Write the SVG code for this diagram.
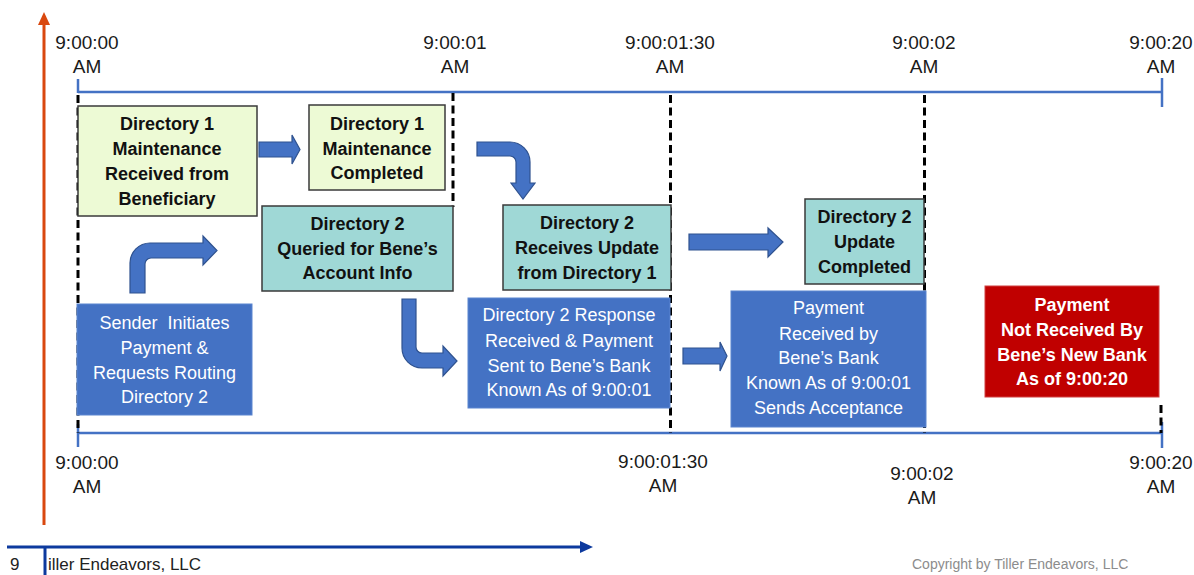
<svg xmlns="http://www.w3.org/2000/svg" width="1194" height="575" viewBox="0 0 1194 575">
<style>
  text { font-family: "Liberation Sans", Arial, sans-serif; }
  .tl { font-size: 19px; fill: #1a1a1a; text-anchor: middle; }
  .bold { font-size: 18px; font-weight: bold; fill: #111; text-anchor: middle; }
  .wt { font-size: 18px; fill: #ffffff; text-anchor: middle; }
  .wtb { font-size: 18px; font-weight: bold; fill: #ffffff; text-anchor: middle; }
  .green { fill: #EDFAD5; stroke: #3a3a3a; stroke-width: 1.5; }
  .teal { fill: #9FD8D6; stroke: #3a3a3a; stroke-width: 1.5; }
  .blue { fill: #4472C4; stroke: #5B85D0; stroke-width: 1; }
  .red { fill: #C00000; stroke: #D04040; stroke-width: 1; }
  .axis { stroke: #4472C4; stroke-width: 2.5; fill: none; }
  .dash { stroke: #000; stroke-width: 3; stroke-dasharray: 8 4.5; fill: none; }
  .barrow { fill: #4472C4; stroke: #2F528F; stroke-width: 1.2; }
</style>

<!-- vertical orange axis -->
<g id="y-axis">
  <line x1="44" y1="525" x2="44" y2="22" stroke="#D9480F" stroke-width="3"/>
  <polygon points="38,25 44,12 50,25" fill="#D9480F"/>
</g>

<!-- timelines -->
<g id="timeline-top">
  <line class="axis" x1="78" y1="92" x2="1162" y2="92"/>
  <line class="axis" x1="78" y1="79" x2="78" y2="93"/>
  <line class="axis" x1="1162" y1="78" x2="1162" y2="107"/>
  <text class="tl" x="87" y="49">9:00:00</text>
  <text class="tl" x="87" y="73">AM</text>
  <text class="tl" x="455" y="49">9:00:01</text>
  <text class="tl" x="455" y="73">AM</text>
  <text class="tl" x="670" y="49">9:00:01:30</text>
  <text class="tl" x="670" y="73">AM</text>
  <text class="tl" x="924" y="49">9:00:02</text>
  <text class="tl" x="924" y="73">AM</text>
  <text class="tl" x="1161" y="49">9:00:20</text>
  <text class="tl" x="1161" y="73">AM</text>
</g>
<g id="timeline-bottom">
  <line class="axis" x1="78" y1="433" x2="1162" y2="433"/>
  <line class="axis" x1="78" y1="424" x2="78" y2="447"/>
  <line class="axis" x1="1162" y1="422" x2="1162" y2="448"/>
  <text class="tl" x="87" y="469">9:00:00</text>
  <text class="tl" x="87" y="493">AM</text>
  <text class="tl" x="663" y="468">9:00:01:30</text>
  <text class="tl" x="663" y="492">AM</text>
  <text class="tl" x="922" y="480">9:00:02</text>
  <text class="tl" x="922" y="504">AM</text>
  <text class="tl" x="1161" y="469">9:00:20</text>
  <text class="tl" x="1161" y="493">AM</text>
</g>

<!-- dashed time markers -->
<g id="markers">
  <line class="dash" x1="78" y1="95" x2="78" y2="433"/>
  <line class="dash" x1="453" y1="93" x2="453" y2="207"/>
  <line class="dash" x1="670.5" y1="95" x2="670.5" y2="433"/>
  <line class="dash" x1="924.5" y1="95" x2="924.5" y2="433"/>
  <line class="dash" x1="1161" y1="405" x2="1161" y2="433"/>
</g>

<!-- nodes -->
<g id="node-d1-received">
  <rect class="green" x="78" y="106" width="179" height="110"/>
  <text class="bold" x="167" y="130">Directory 1</text>
  <text class="bold" x="167" y="155">Maintenance</text>
  <text class="bold" x="167" y="180">Received from</text>
  <text class="bold" x="167" y="205">Beneficiary</text>
</g>
<g id="node-d1-completed">
  <rect class="green" x="309" y="105" width="136" height="85"/>
  <text class="bold" x="377" y="129.5">Directory 1</text>
  <text class="bold" x="377" y="154.5">Maintenance</text>
  <text class="bold" x="377" y="179">Completed</text>
</g>
<g id="node-d2-queried">
  <rect class="teal" x="262" y="206" width="191" height="85"/>
  <text class="bold" x="357.5" y="230">Directory 2</text>
  <text class="bold" x="357.5" y="255">Queried for Bene’s</text>
  <text class="bold" x="357.5" y="279">Account Info</text>
</g>
<g id="node-d2-receives">
  <rect class="teal" x="503" y="205" width="168" height="85"/>
  <text class="bold" x="587" y="229">Directory 2</text>
  <text class="bold" x="587" y="254">Receives Update</text>
  <text class="bold" x="587" y="279">from Directory 1</text>
</g>
<g id="node-d2-completed">
  <rect class="teal" x="805" y="199" width="119" height="85"/>
  <text class="bold" x="864.5" y="223">Directory 2</text>
  <text class="bold" x="864.5" y="248">Update</text>
  <text class="bold" x="864.5" y="273">Completed</text>
</g>
<g id="node-sender">
  <rect class="blue" x="77" y="304" width="175" height="111"/>
  <text class="wt" x="164.5" y="329" xml:space="preserve">Sender  Initiates</text>
  <text class="wt" x="164.5" y="354">Payment &amp;</text>
  <text class="wt" x="164.5" y="379">Requests Routing</text>
  <text class="wt" x="164.5" y="403">Directory 2</text>
</g>
<g id="node-response">
  <rect class="blue" x="468" y="298" width="202" height="110"/>
  <text class="wt" x="569" y="321">Directory 2 Response</text>
  <text class="wt" x="569" y="347">Received &amp; Payment</text>
  <text class="wt" x="569" y="372">Sent to Bene’s Bank</text>
  <text class="wt" x="569" y="396">Known As of 9:00:01</text>
</g>
<g id="node-payment-received">
  <rect class="blue" x="731" y="291" width="195" height="136"/>
  <text class="wt" x="828.5" y="314">Payment</text>
  <text class="wt" x="828.5" y="340">Received by</text>
  <text class="wt" x="828.5" y="364">Bene’s Bank</text>
  <text class="wt" x="828.5" y="389">Known As of 9:00:01</text>
  <text class="wt" x="828.5" y="414">Sends Acceptance</text>
</g>
<g id="node-not-received">
  <rect class="red" x="985" y="286" width="174" height="111"/>
  <text class="wtb" x="1072" y="311">Payment</text>
  <text class="wtb" x="1072" y="336">Not Received By</text>
  <text class="wtb" x="1072" y="361">Bene’s New Bank</text>
  <text class="wtb" x="1072" y="385">As of 9:00:20</text>
</g>

<!-- connectors -->
<g id="connectors">
  <path class="barrow" d="M259,142 H292 V135 L300,149.5 L292,164 V157 H259 Z"/>
  <path class="barrow" d="M477,142 H510 A20,20 0 0 1 530,162 V183 H535 L523,199 L511,183 H516 V162 A6,6 0 0 0 510,156 H477 Z"/>
  <path class="barrow" d="M130,293 V263 A20,20 0 0 1 150,243 H203 V236 L217,250.5 L203,265 V258 H151 A6,6 0 0 0 145,264 V293 Z"/>
  <path class="barrow" d="M402,299 H416 V347 A6,6 0 0 0 422,353 H443 V346 L457,361 L443,376 V368 H422 A20,20 0 0 1 402,348 Z"/>
  <path class="barrow" d="M689,234 H768 V228 L783,242 L768,257 V250 H689 Z"/>
  <path class="barrow" d="M683,348 H720 V342 L727,356 L720,371 V364 H683 Z"/>
</g>

<!-- footer -->
<g id="footer">
  <line x1="7" y1="547" x2="582" y2="547" stroke="#0D3A9E" stroke-width="3"/>
  <polygon points="580,541 593,547 580,553" fill="#0D3A9E"/>
  <line x1="45" y1="547" x2="45" y2="575" stroke="#0D3A9E" stroke-width="3"/>
  <text x="10" y="570" font-size="17" fill="#222">9</text>
  <text x="48" y="570" font-size="17" fill="#222">iller Endeavors, LLC</text>
  <text x="912" y="569" font-size="14" fill="#8c8c8c">Copyright by Tiller Endeavors, LLC</text>
</g>
</svg>
